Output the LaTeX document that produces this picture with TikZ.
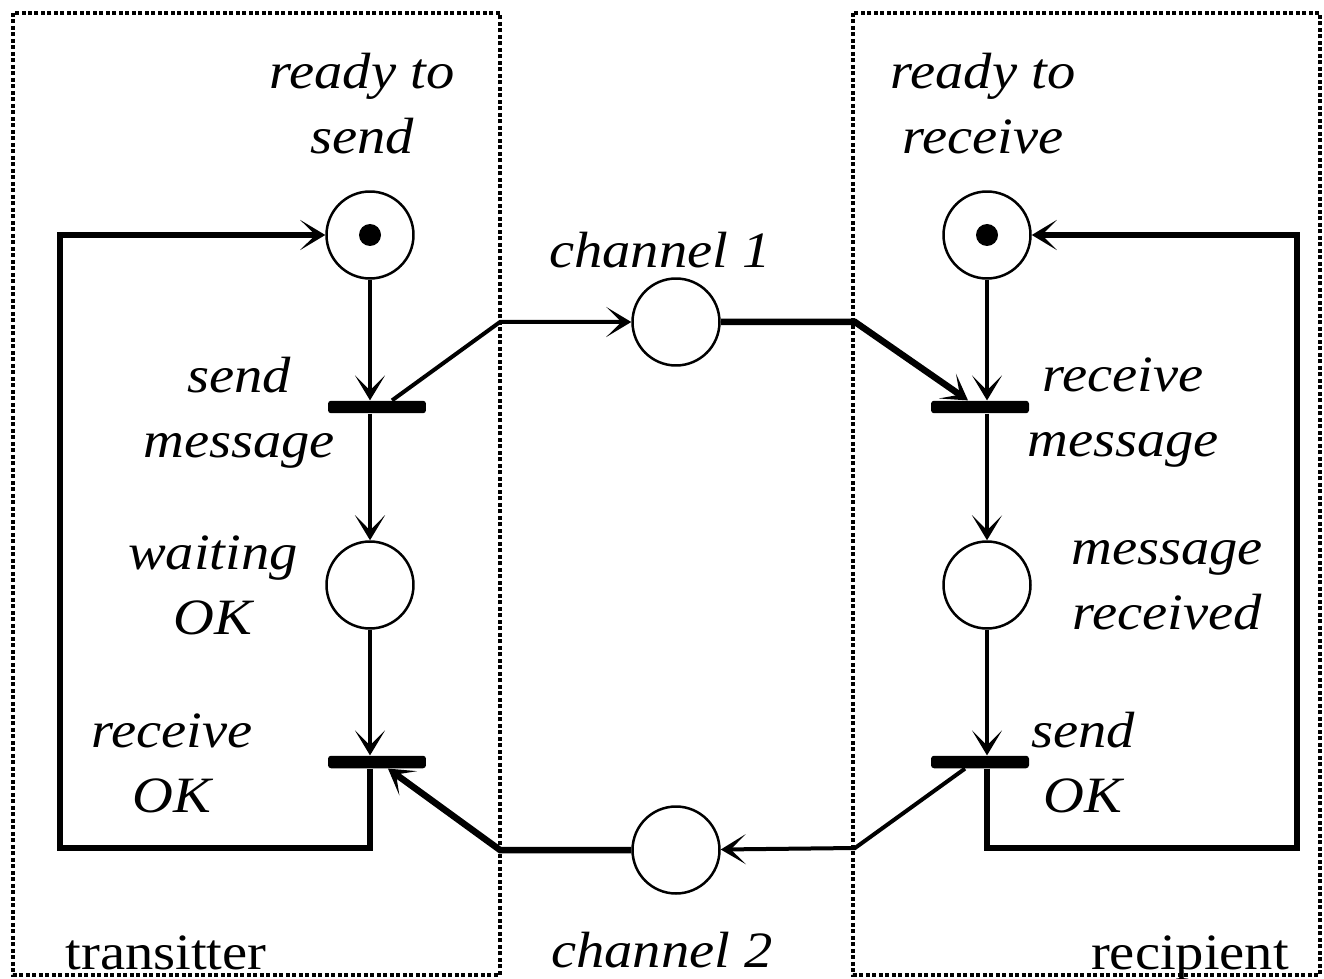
\documentclass[tikz,border=0pt]{standalone}
\usepackage{fontspec}
\setmainfont[FakeStretch=1.11]{Liberation Serif}
\usetikzlibrary{arrows.meta}
\begin{document}
\begin{tikzpicture}[x=0.02cm,y=-0.02cm,
  place/.style={circle, draw, line width=0.05cm, minimum size=1.74cm, inner sep=0pt},
  token/.style={circle, fill, minimum size=0.44cm, inner sep=0pt},
  trans/.style={rectangle, fill, rounded corners=0.06cm, minimum width=1.96cm, minimum height=0.25cm, inner sep=0pt},
  tip/.style={-{Stealth[length=0.5cm,width=0.6cm,inset=0.3cm]}},
  arc/.style={line width=0.08cm, tip},
  heavy/.style={line width=0.13cm, tip},
  lbl/.style={font=\fontsize{29pt}{37pt}\selectfont\itshape, align=center, inner sep=0pt},
  plain/.style={font=\fontsize{29pt}{37pt}\selectfont, inner sep=0pt, anchor=base},
  zone/.style={line width=0.07cm, dash pattern=on 0.08cm off 0.05cm},
]
\useasboundingbox (0,0) rectangle (1324,979);

% two parties
\draw[zone] (13,13) rectangle (500,975);
\draw[zone] (853,13) rectangle (1320,975);

% places
\node[place] (rts) at (370,235) {};
\node[place] (wok) at (370,585) {};
\node[place] (rtr) at (987,235) {};
\node[place] (mrc) at (987,585) {};
\node[place] (ch1) at (676,322) {};
\node[place] (ch2) at (676,850) {};
\node[token] (tk1) at (rts) {};
\node[token] (tk2) at (rtr) {};

% transitions
\node[trans] (sm) at (377,407) {};
\node[trans] (ro) at (377,762) {};
\node[trans] (rm) at (980,407) {};
\node[trans] (so) at (980,762) {};

% corner points
\coordinate (c1a) at (500,322);
\coordinate (c1b) at (855,322);
\coordinate (c2a) at (500,850);
\coordinate (c2b) at (855,848);
\coordinate (lb) at (60,848);
\coordinate (rb) at (1297,848);

% transmitter cycle
\draw[arc] (rts) -- (rts |- sm.north);
\draw[arc] (rts |- sm.south) -- (wok);
\draw[arc] (wok) -- (wok |- ro.north);
\draw[heavy] (wok |- ro.south) |- (lb) -- (lb |- rts) -- (rts);

% recipient cycle
\draw[arc] (rtr) -- (rtr |- rm.north);
\draw[arc] (rtr |- rm.south) -- (mrc);
\draw[arc] (mrc) -- (mrc |- so.north);
\draw[heavy] (mrc |- so.south) |- (rb) -- (rb |- rtr) -- (rtr);

% channels
\draw[arc] ([xshift=0.3cm]sm.north) -- (c1a) -- (ch1);
\draw[heavy] (ch1) -- (c1b) -- ([xshift=-0.24cm]rm.north);
\draw[arc] ([xshift=-0.3cm]so.south) -- (c2b) -- (ch2);
\draw[heavy] (ch2) -- (c2a) -- ([xshift=0.22cm]ro.south);

% labels
\node[lbl] (l1) at (362,104) {ready to\\send};
\node[lbl] (l2) at (983,104) {ready to\\receive};
\node[lbl] (l3) at (660,250) {channel 1};
\node[lbl] (l4) at (662,950) {channel 2};
\node[lbl] (l5) at (239,413) {send\\message};
\node[lbl] (l6) at (213,585) {waiting\\OK};
\node[lbl] (l7) at (172,763) {receive\\OK};
\node[lbl] (l8) at (1123,413) {receive\\message};
\node[lbl] (l9) at (1167,585) {message\\received};
\node[lbl] (l10) at (1083,763) {send\\OK};
\node[plain] (t1) at (166,969) {transitter};
\node[plain] (t2) at (1190,969) {recipient};
\end{tikzpicture}
\end{document}
